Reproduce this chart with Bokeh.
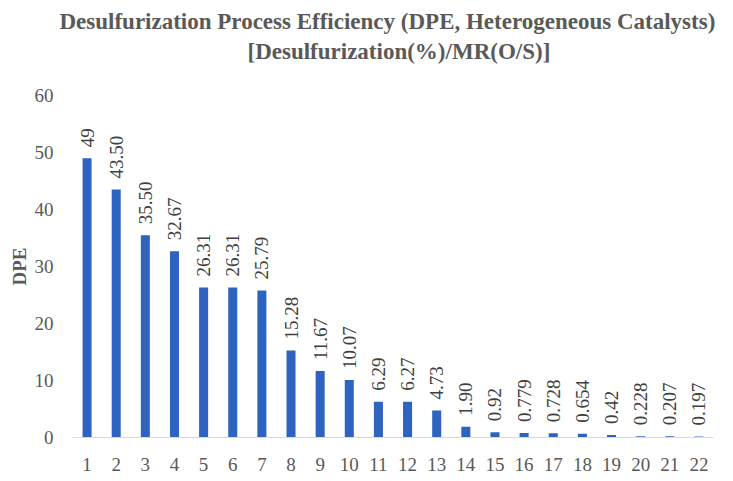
import math
from bokeh.plotting import figure
from bokeh.models import ColumnDataSource, LabelSet, Range1d, Title, FactorRange, FixedTicker
from bokeh.embed import file_html
from bokeh.resources import INLINE

categories = [str(i) for i in range(1, 23)]
values = [49, 43.50, 35.50, 32.67, 26.31, 26.31, 25.79, 15.28, 11.67, 10.07,
          6.29, 6.27, 4.73, 1.90, 0.92, 0.779, 0.728, 0.654, 0.42, 0.228, 0.207, 0.197]
labels = ["49", "43.50", "35.50", "32.67", "26.31", "26.31", "25.79", "15.28", "11.67", "10.07",
          "6.29", "6.27", "4.73", "1.90", "0.92", "0.779", "0.728", "0.654", "0.42", "0.228", "0.207", "0.197"]
y_ticks = [0, 10, 20, 30, 40, 50, 60]

src = ColumnDataSource(dict(cat=categories, val=values, lab=labels))

FONT = "Liberation Serif"
GRAY = "#595959"

p = figure(width=717, height=473, x_range=FactorRange(*categories), y_range=Range1d(0, 60),
           output_backend="svg", toolbar_location=None,
           min_border_left=72, min_border_right=4, min_border_top=95, min_border_bottom=35)

p.vbar(x="cat", top="val", width=0.31, source=src, color="#2E63C0", line_color=None)

p.add_layout(LabelSet(x="cat", y="val", text="lab", source=src, angle=math.pi / 2,
                      text_align="left", text_baseline="middle", y_offset=11,
                      text_font=FONT, text_font_size="19px", text_color="#404040"))

spacer = Title(text=" ", text_font_size="24px", standoff=0)
t2 = Title(text="[Desulfurization(%)/MR(O/S)]", align="left", offset=175,
           text_font=FONT, text_font_size="23px", text_font_style="bold", text_color=GRAY,
           standoff=6)
t1 = Title(text="Desulfurization Process Efficiency (DPE, Heterogeneous Catalysts)", align="left",
           offset=-13, text_font=FONT, text_font_size="23px", text_font_style="bold",
           text_color=GRAY, standoff=0)
p.add_layout(spacer, "above")
p.add_layout(t2, "above")
p.add_layout(t1, "above")

p.xgrid.grid_line_color = None
p.ygrid.grid_line_color = None
p.outline_line_color = None

p.yaxis.ticker = FixedTicker(ticks=y_ticks)
p.yaxis.axis_line_color = None
p.yaxis.major_tick_line_color = None
p.yaxis.minor_tick_line_color = None
p.yaxis.major_label_text_font = FONT
p.yaxis.major_label_text_font_size = "19px"
p.yaxis.major_label_text_color = GRAY
p.yaxis.major_label_standoff = 13
p.yaxis.axis_label = "DPE"
p.yaxis.axis_label_text_font = FONT
p.yaxis.axis_label_text_font_size = "19px"
p.yaxis.axis_label_text_font_style = "bold"
p.yaxis.axis_label_text_color = GRAY
p.yaxis.axis_label_standoff = 2

p.xaxis.axis_line_color = "#D9D9D9"
p.xaxis.axis_line_width = 1
p.xaxis.major_tick_line_color = None
p.xaxis.minor_tick_line_color = None
p.xaxis.major_label_text_font = FONT
p.xaxis.major_label_text_font_size = "19px"
p.xaxis.major_label_text_color = GRAY
p.xaxis.major_label_standoff = 14

open("out.html", "w").write(file_html(p, INLINE))
